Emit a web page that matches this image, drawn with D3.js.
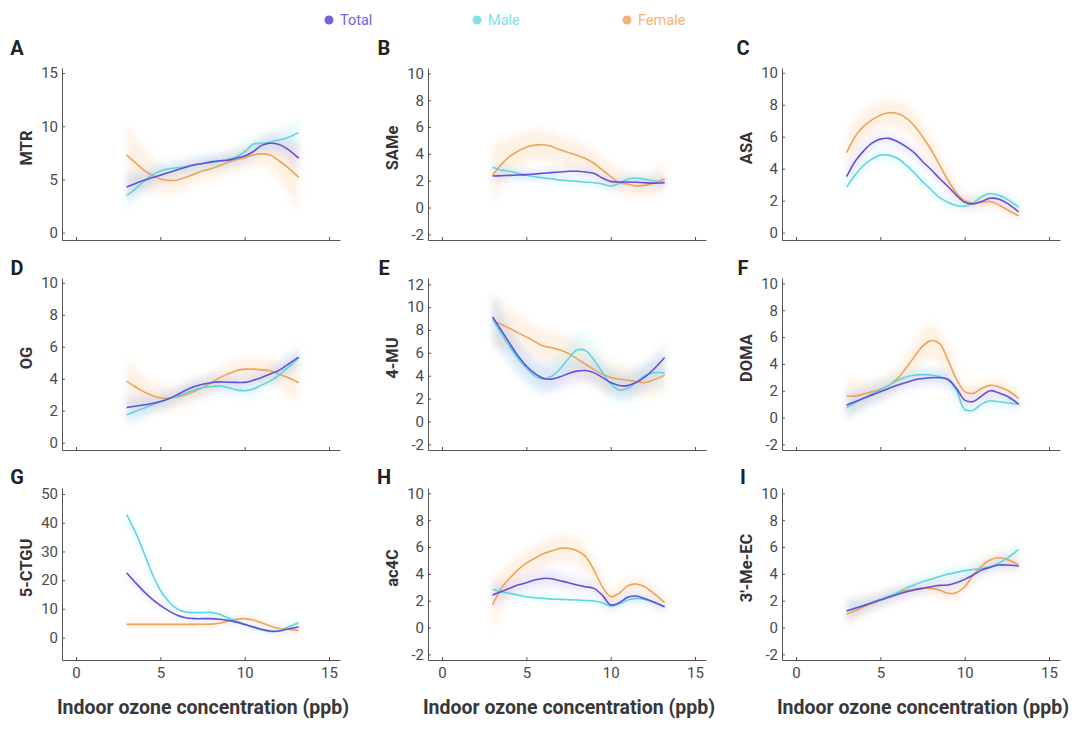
<!DOCTYPE html>
<html>
<head>
<meta charset="utf-8">
<script src="https://cdn.jsdelivr.net/npm/d3@7"></script>
<style>
  body { margin: 0; background: #fff; }
  svg { font-family: Roboto, "Noto Sans", sans-serif; }
</style>
</head>
<body>
<div class="chart"></div>
<script>
// x grid for the fitted curves, and the coarser grid where band widths were read
const xs = [3, 3.5, 4, 4.5, 5, 5.5, 6, 6.5, 7, 7.5, 8, 8.5, 9, 9.5, 10, 10.5, 11, 11.5, 12, 12.5, 13.2];
const bandXs = [3, 4, 5, 6, 7, 8, 9, 10, 11, 12, 13.2];

const seriesNames = ["Total", "Male", "Female"];
const panelLetters = ["A", "B", "C", "D", "E", "F", "G", "H", "I"];
const metabolites = ["MTR", "SAMe", "ASA", "OG", "4-MU", "DOMA", "5-CTGU", "ac4C", "3\u2032-Me-EC"];
const xTicks = [0, 5, 10, 15];
const yTicks = [
  [0, 5, 10, 15],
  [-2, 0, 2, 4, 6, 8, 10],
  [0, 2, 4, 6, 8, 10],
  [0, 2, 4, 6, 8, 10],
  [-2, 0, 2, 4, 6, 8, 10, 12],
  [-2, 0, 2, 4, 6, 8, 10],
  [0, 10, 20, 30, 40, 50],
  [-2, 0, 2, 4, 6, 8, 10],
  [-2, 0, 2, 4, 6, 8, 10]
];

// fitted values: [Total, Male, Female]
const mtr = [
  [4.3, 4.6, 4.9, 5.15, 5.4, 5.65, 5.9, 6.15, 6.35, 6.5, 6.65, 6.75, 6.8, 7.0, 7.2, 7.6, 8.2, 8.4, 8.3, 7.9, 7.0],
  [3.5, 4.1, 4.8, 5.4, 5.8, 6.0, 6.1, 6.2, 6.4, 6.5, 6.6, 6.7, 6.9, 7.1, 7.6, 8.3, 8.4, 8.5, 8.7, 8.9, 9.4],
  [7.3, 6.6, 5.9, 5.4, 5.05, 4.9, 4.95, 5.2, 5.5, 5.8, 6.0, 6.3, 6.6, 6.85, 7.05, 7.3, 7.4, 7.3, 6.8, 6.2, 5.2]
];
const same = [
  [2.35, 2.37, 2.4, 2.42, 2.45, 2.5, 2.55, 2.6, 2.65, 2.7, 2.7, 2.65, 2.55, 2.2, 1.95, 1.9, 1.9, 1.88, 1.85, 1.82, 1.85],
  [3.0, 2.8, 2.7, 2.55, 2.4, 2.3, 2.2, 2.15, 2.05, 2.0, 1.95, 1.9, 1.85, 1.75, 1.6, 1.8, 2.1, 2.2, 2.1, 2.0, 1.9],
  [2.4, 3.2, 3.8, 4.2, 4.5, 4.65, 4.68, 4.55, 4.3, 4.1, 3.9, 3.65, 3.3, 2.8, 2.3, 1.85, 1.75, 1.6, 1.65, 1.8, 2.15]
];
const asa = [
  [3.5, 4.45, 5.1, 5.6, 5.85, 5.9, 5.7, 5.4, 5.0, 4.45, 3.95, 3.4, 2.9, 2.35, 1.9, 1.8, 1.95, 2.15, 2.1, 1.85, 1.3],
  [2.85, 3.6, 4.2, 4.6, 4.85, 4.85, 4.65, 4.25, 3.75, 3.2, 2.7, 2.2, 1.9, 1.7, 1.65, 1.85, 2.25, 2.45, 2.35, 2.1, 1.6],
  [5.0, 6.0, 6.65, 7.05, 7.35, 7.5, 7.45, 7.2, 6.7, 6.0, 5.2, 4.25, 3.3, 2.5, 2.0, 1.85, 1.9, 1.95, 1.75, 1.45, 1.05]
];
const og = [
  [2.2, 2.28, 2.35, 2.45, 2.57, 2.75, 3.0, 3.28, 3.5, 3.65, 3.75, 3.8, 3.78, 3.77, 3.77, 3.9, 4.08, 4.3, 4.5, 4.85, 5.35],
  [1.75, 1.95, 2.15, 2.35, 2.55, 2.75, 2.9, 3.1, 3.3, 3.45, 3.5, 3.55, 3.45, 3.3, 3.25, 3.35, 3.6, 3.85, 4.2, 4.65, 5.3],
  [3.85, 3.5, 3.2, 2.95, 2.8, 2.78, 2.85, 3.0, 3.2, 3.45, 3.75, 4.05, 4.3, 4.5, 4.6, 4.6, 4.55, 4.5, 4.3, 4.1, 3.75]
];
const mu4 = [
  [9.15, 8.0, 6.85, 5.75, 4.85, 4.2, 3.78, 3.7, 3.9, 4.2, 4.4, 4.45, 4.27, 3.85, 3.4, 3.15, 3.13, 3.4, 3.85, 4.5, 5.6],
  [9.0, 7.7, 6.55, 5.5, 4.65, 4.0, 3.7, 3.95, 4.6, 5.5, 6.25, 6.2, 5.4, 4.3, 3.3, 2.75, 2.9, 3.4, 4.0, 4.25, 4.25],
  [8.8, 8.5, 8.15, 7.75, 7.4, 7.0, 6.6, 6.45, 6.25, 5.95, 5.5, 5.0, 4.55, 4.15, 3.85, 3.7, 3.6, 3.5, 3.4, 3.6, 4.05]
];
const doma = [
  [0.93, 1.18, 1.43, 1.68, 1.93, 2.17, 2.4, 2.6, 2.8, 2.9, 2.97, 2.97, 2.85, 2.2, 1.3, 1.2, 1.6, 2.0, 1.85, 1.6, 1.0],
  [0.75, 1.1, 1.43, 1.75, 2.05, 2.4, 2.75, 3.0, 3.15, 3.2, 3.17, 3.05, 2.8, 2.05, 0.6, 0.55, 1.0, 1.25, 1.18, 1.1, 1.0],
  [1.6, 1.6, 1.75, 1.93, 2.1, 2.4, 2.9, 3.65, 4.5, 5.3, 5.73, 5.53, 4.3, 2.9, 1.93, 1.8, 2.17, 2.4, 2.3, 2.05, 1.43]
];
const ctgu = [
  [22.6, 19.3, 16.2, 13.5, 11.2, 9.3, 7.75, 6.9, 6.6, 6.6, 6.6, 6.4, 6.0, 5.4, 4.6, 3.8, 2.9, 2.3, 2.3, 2.9, 3.7],
  [42.8, 37, 30, 22.5, 16.5, 12.5, 10, 8.9, 8.7, 8.7, 8.8, 8.1, 6.9, 5.8, 4.6, 3.5, 2.7, 2.1, 2.2, 3.5, 5.2],
  [4.6, 4.6, 4.6, 4.6, 4.6, 4.6, 4.6, 4.6, 4.6, 4.65, 4.7, 5.0, 5.7, 6.4, 6.6, 6.1, 5.2, 4.05, 3.2, 2.9, 2.5]
];
const ac4c = [
  [2.42, 2.67, 2.92, 3.17, 3.34, 3.54, 3.66, 3.64, 3.49, 3.34, 3.17, 3.04, 2.92, 2.42, 1.68, 1.85, 2.25, 2.35, 2.17, 1.93, 1.55],
  [2.85, 2.67, 2.55, 2.42, 2.3, 2.22, 2.17, 2.12, 2.1, 2.07, 2.05, 2.02, 1.98, 1.85, 1.6, 1.75, 2.05, 2.17, 2.1, 1.93, 1.55],
  [1.68, 2.9, 3.66, 4.3, 4.8, 5.16, 5.5, 5.7, 5.9, 5.9, 5.73, 5.3, 4.3, 3.05, 2.3, 2.55, 3.1, 3.25, 3.05, 2.6, 1.85]
];
const meec = [
  [1.23, 1.43, 1.63, 1.85, 2.05, 2.25, 2.47, 2.65, 2.8, 2.92, 3.04, 3.14, 3.17, 3.34, 3.59, 3.91, 4.29, 4.48, 4.66, 4.66, 4.58],
  [1.25, 1.45, 1.65, 1.87, 2.1, 2.35, 2.6, 2.92, 3.17, 3.42, 3.6, 3.8, 3.98, 4.11, 4.24, 4.33, 4.4, 4.53, 4.78, 5.15, 5.83],
  [1.0, 1.25, 1.55, 1.8, 2.05, 2.3, 2.55, 2.75, 2.85, 2.92, 2.92, 2.8, 2.55, 2.6, 3.04, 3.91, 4.58, 5.03, 5.2, 5.08, 4.66]
];

// half-widths of the confidence bands at bandXs: [Total, Male, Female]
const mtrBand = [
  [1.3, 0.9, 0.7, 0.6, 0.6, 0.6, 0.6, 0.6, 0.7, 0.9, 1.3],
  [1.5, 1.0, 0.8, 0.7, 0.7, 0.7, 0.7, 0.8, 0.9, 1.0, 1.2],
  [3.2, 2.0, 1.4, 1.1, 1.0, 1.0, 1.0, 1.0, 1.1, 1.8, 3.3]
];
const sameBand = [
  [0.5, 0.35, 0.3, 0.3, 0.3, 0.3, 0.3, 0.3, 0.3, 0.3, 0.4],
  [0.5, 0.35, 0.3, 0.3, 0.3, 0.3, 0.3, 0.3, 0.35, 0.35, 0.45],
  [2.3, 1.4, 1.2, 1.2, 1.1, 1.1, 1.0, 1.0, 0.9, 0.8, 1.2]
];
const asaBand = [
  [0.5, 0.4, 0.35, 0.35, 0.35, 0.3, 0.3, 0.25, 0.25, 0.25, 0.3],
  [0.4, 0.3, 0.3, 0.3, 0.3, 0.3, 0.3, 0.25, 0.25, 0.25, 0.3],
  [1.3, 1.0, 0.9, 0.9, 0.9, 0.8, 0.7, 0.5, 0.4, 0.4, 0.5]
];
const ogBand = [
  [0.8, 0.6, 0.5, 0.45, 0.45, 0.45, 0.45, 0.45, 0.45, 0.5, 0.7],
  [0.8, 0.6, 0.5, 0.45, 0.45, 0.45, 0.45, 0.45, 0.45, 0.5, 0.6],
  [1.6, 1.0, 0.8, 0.7, 0.7, 0.7, 0.7, 0.7, 0.7, 0.8, 1.3]
];
const mu4Band = [
  [1.9, 1.5, 1.2, 1.1, 1.0, 1.0, 1.0, 1.0, 1.0, 1.1, 1.3],
  [2.0, 1.6, 1.4, 1.4, 1.4, 1.6, 1.5, 1.4, 1.3, 1.2, 1.4],
  [2.5, 1.8, 1.5, 1.4, 1.4, 1.4, 1.4, 1.3, 1.2, 1.2, 1.5]
];
const domaBand = [
  [1.0, 0.7, 0.6, 0.55, 0.5, 0.5, 0.5, 0.4, 0.35, 0.35, 0.4],
  [1.1, 0.8, 0.7, 0.6, 0.6, 0.6, 0.6, 0.45, 0.4, 0.4, 0.45],
  [1.3, 0.9, 0.8, 0.8, 1.1, 1.3, 1.2, 0.6, 0.5, 0.5, 0.6]
];
const ctguBand = [
  [2.0, 1.5, 1.0, 0.8, 0.7, 0.7, 0.7, 0.6, 0.6, 0.6, 0.8],
  [2.5, 2.0, 1.5, 1.0, 0.8, 0.8, 0.8, 0.7, 0.7, 0.8, 1.2],
  [1.5, 1.2, 1.0, 1.0, 1.0, 1.0, 1.0, 1.0, 1.0, 1.0, 1.2]
];
const ac4cBand = [
  [0.9, 0.6, 0.6, 0.7, 0.6, 0.5, 0.45, 0.35, 0.35, 0.35, 0.45],
  [0.5, 0.3, 0.25, 0.25, 0.2, 0.2, 0.2, 0.2, 0.2, 0.2, 0.3],
  [2.0, 1.2, 1.0, 1.0, 1.0, 1.0, 0.9, 0.6, 0.5, 0.5, 0.6]
];
const meecBand = [
  [0.9, 0.6, 0.5, 0.45, 0.4, 0.4, 0.4, 0.4, 0.4, 0.4, 0.45],
  [0.7, 0.5, 0.45, 0.4, 0.4, 0.45, 0.45, 0.45, 0.45, 0.5, 0.6],
  [0.9, 0.6, 0.5, 0.5, 0.45, 0.45, 0.5, 0.5, 0.5, 0.5, 0.6]
];

const panelValues = [mtr, same, asa, og, mu4, doma, ctgu, ac4c, meec];
const panelBands = [mtrBand, sameBand, asaBand, ogBand, mu4Band, domaBand, ctguBand, ac4cBand, meecBand];
const yDomains = [
  [-0.69, 15.47], [-2.42, 10.4], [-0.46, 10.3],
  [-0.46, 10.3], [-2.5, 12.55], [-2.42, 10.4],
  [-7.8, 52.1], [-2.42, 10.4], [-2.42, 10.4]
];

const lineColors = ["#6250d8", "#5ed6e0", "#f0a255"];
const bandColors = ["#a79ce9", "#9ae8ef", "#fccb98"];
const legendColors = ["#7363d9", "#86e0e8", "#f5b276"];

function setupChart() {
  const width = 1080, height = 739;
  const svg = d3.select('.chart').append('svg')
    .attr('width', width)
    .attr('height', height);

  svg.append('defs').append('filter')
      .attr('id', 'soft')
      .attr('x', '-20%').attr('y', '-20%')
      .attr('width', '140%').attr('height', '140%')
    .append('feGaussianBlur')
      .attr('stdDeviation', 3.5);

  return svg;
}

function drawLegend(svg) {
  const legendX = [329, 477, 627];
  const g = svg.append('g');
  seriesNames.forEach((name, i) => {
    g.append('circle')
      .attr('cx', legendX[i]).attr('cy', 20).attr('r', 4.5)
      .attr('fill', legendColors[i]);
    g.append('text')
      .attr('x', legendX[i] + 11).attr('y', 20)
      .attr('dy', '0.35em')
      .attr('font-size', 14.5)
      .attr('fill', legendColors[i])
      .text(name);
  });
}

function drawPanel(svg, p) {
  const col = p % 3, row = Math.floor(p / 3);
  const left = [62, 428, 782][col];
  const top = [68, 278, 488][row];
  const w = 278, h = 172;

  const x = d3.scaleLinear().domain([-0.83, 15.65]).range([left, left + w]);
  const y = d3.scaleLinear().domain(yDomains[p]).range([top + h, top]);

  const g = svg.append('g');

  // confidence bands
  const area = d3.area()
    .x(d => x(d.x))
    .y0(d => y(d.lo))
    .y1(d => y(d.hi))
    .curve(d3.curveCatmullRom);
  const bandG = g.append('g').attr('filter', 'url(#soft)');
  [2, 1, 0].forEach(s => {
    const pts = bandXs.map((bx, k) => {
      const v = panelValues[p][s][xs.indexOf(bx)];
      const hw = panelBands[p][s][k];
      return { x: bx, lo: v - hw, hi: v + hw };
    });
    bandG.append('path')
      .datum(pts)
      .attr('d', area)
      .attr('fill', bandColors[s])
      .attr('fill-opacity', [0.2, 0.22, 0.25][s]);
  });

  // fitted lines
  const line = d3.line()
    .x(d => x(d.x))
    .y(d => y(d.y))
    .curve(d3.curveCatmullRom);
  [2, 1, 0].forEach(s => {
    const pts = xs.map((xv, k) => ({ x: xv, y: panelValues[p][s][k] }));
    g.append('path')
      .datum(pts)
      .attr('d', line)
      .attr('fill', 'none')
      .attr('stroke', lineColors[s])
      .attr('stroke-width', 1.6);
  });

  // axes
  const yAxis = g.append('g')
    .attr('transform', `translate(${left},0)`)
    .call(d3.axisLeft(y).tickValues(yTicks[p]).tickSize(-3).tickSizeOuter(0)
      .tickPadding(4).tickFormat(d => String(d)));
  yAxis.selectAll('text').attr('font-size', 15).attr('fill', '#4a4a4a').style('font-family', 'Roboto');

  const xAxis = g.append('g')
    .attr('transform', `translate(0,${top + h})`)
    .call(d3.axisBottom(x).tickValues(xTicks).tickSize(-3).tickSizeOuter(0)
      .tickPadding(7).tickFormat(row === 2 ? (d => String(d)) : () => ''));
  xAxis.selectAll('text').attr('font-size', 15).attr('fill', '#4a4a4a').style('font-family', 'Roboto');

  svg.selectAll('.domain, .tick line').attr('stroke', '#555');

  // y label
  const cy = top + h / 2 - 6;
  g.append('text')
    .attr('transform', `translate(${left - 36},${cy}) rotate(-90)`)
    .attr('text-anchor', 'middle')
    .attr('dy', '0.35em')
    .attr('font-size', 16.5)
    .attr('font-weight', 'bold')
    .attr('fill', '#333')
    .text(metabolites[p]);

  // panel letter
  g.append('text')
    .attr('x', [17, 384, 743][col])
    .attr('y', [55, 275, 484][row])
    .attr('text-anchor', 'middle')
    .attr('font-size', 20)
    .attr('font-weight', 'bold')
    .attr('fill', '#222')
    .text(panelLetters[p]);

  // x title under the bottom row
  if (row === 2) {
    g.append('text')
      .attr('x', left + w / 2 + 2)
      .attr('y', 707)
      .attr('dy', '0.35em')
      .attr('text-anchor', 'middle')
      .attr('font-size', 19.5)
      .attr('font-weight', 'bold')
      .attr('fill', '#383838')
      .text('Indoor ozone concentration (ppb)');
  }
}

const svg = setupChart();
drawLegend(svg);
panelLetters.forEach((_, p) => drawPanel(svg, p));
</script>
</body>
</html>
